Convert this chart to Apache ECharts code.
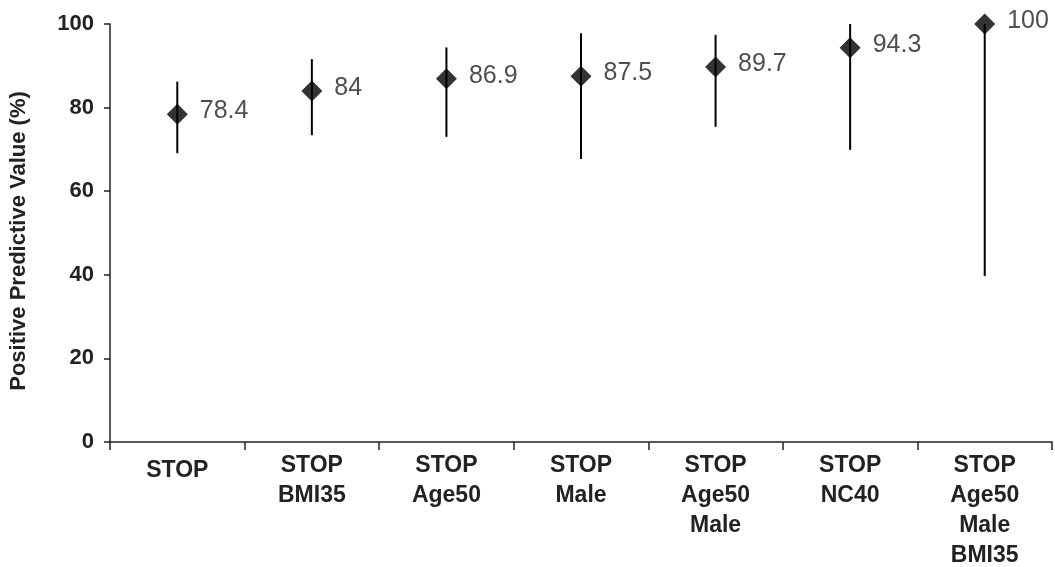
<!DOCTYPE html>
<html>
<head>
<meta charset="utf-8">
<script src="https://cdn.jsdelivr.net/npm/echarts@6/dist/echarts.min.js"></script>
<style>
html,body{margin:0;padding:0;background:#fff;}
#chart{width:1055px;height:567px;}
</style>
</head>
<body>
<div id="chart"></div>
<script>
const categories = ['STOP', 'STOP\nBMI35', 'STOP\nAge50', 'STOP\nMale', 'STOP\nAge50\nMale', 'STOP\nNC40', 'STOP\nAge50\nMale\nBMI35'];
const ppv = [78.4, 84, 86.9, 87.5, 89.7, 94.3, 100];
const ciLower = [69.1, 73.4, 73.0, 67.7, 75.4, 69.9, 39.7];
const ciUpper = [86.2, 91.6, 94.4, 97.8, 97.4, 100, 100];
const yTicks = [0, 20, 40, 60, 80, 100];

const chart = echarts.init(document.getElementById('chart'), null, {renderer: 'canvas'});
const axisColor = '#222';
const font = 'Liberation Sans, Arial, sans-serif';
const errData = categories.map((c, i) => [i, ciLower[i], ciUpper[i]]);

chart.setOption({
  animation: false,
  backgroundColor: '#fff',
  grid: {left: 110, right: 3, top: 24, bottom: 125, containLabel: false, outerBoundsMode: 'none'},
  xAxis: {
    type: 'category',
    data: categories,
    boundaryGap: true,
    axisLine: {lineStyle: {color: axisColor, width: 1.5}},
    axisTick: {show: true, length: 8, lineStyle: {color: axisColor, width: 1.5}},
    axisLabel: {
      interval: 0,
      margin: 9,
      color: '#222',
      fontFamily: font,
      fontWeight: 'bold',
      fontSize: 23,
      lineHeight: 30,
      formatter: function (v, i) { return i === 0 ? '{a|' + v + '}' : v; },
      rich: {a: {fontFamily: font, fontWeight: 'bold', fontSize: 23, color: '#222', padding: [10, 0, 0, 0]}}
    },
    splitLine: {show: false}
  },
  yAxis: {
    type: 'value',
    min: yTicks[0],
    max: yTicks[yTicks.length - 1],
    interval: 20,
    name: 'Positive Predictive Value (%)',
    nameLocation: 'middle',
    nameGap: 80,
    nameRotate: 90,
    nameTextStyle: {color: '#222', fontFamily: font, fontWeight: 'bold', fontSize: 22, padding: [0, 16, 0, 0]},
    axisLine: {show: true, lineStyle: {color: axisColor, width: 1.5}},
    axisTick: {show: true, length: 6, lineStyle: {color: axisColor, width: 1.5}},
    axisLabel: {color: '#222', fontFamily: font, fontWeight: 'bold', fontSize: 22, margin: 16},
    splitLine: {show: false}
  },
  series: [
    {
      type: 'custom',
      data: errData,
      renderItem: function (params, api) {
        const x = api.value(0);
        const p1 = api.coord([x, api.value(1)]);
        const p2 = api.coord([x, api.value(2)]);
        return {
          type: 'line',
          shape: {x1: p1[0], y1: p1[1], x2: p2[0], y2: p2[1]},
          style: {stroke: '#000', lineWidth: 2}
        };
      },
      z: 2
    },
    {
      type: 'scatter',
      data: ppv,
      symbol: 'diamond',
      symbolSize: [21, 21],
      itemStyle: {color: '#000'},
      label: {
        show: true,
        position: 'right',
        distance: 12,
        offset: [0, -3],
        color: '#222',
        fontFamily: font,
        fontSize: 25
      },
      z: 3
    }
  ]
});
</script>
</body>
</html>
